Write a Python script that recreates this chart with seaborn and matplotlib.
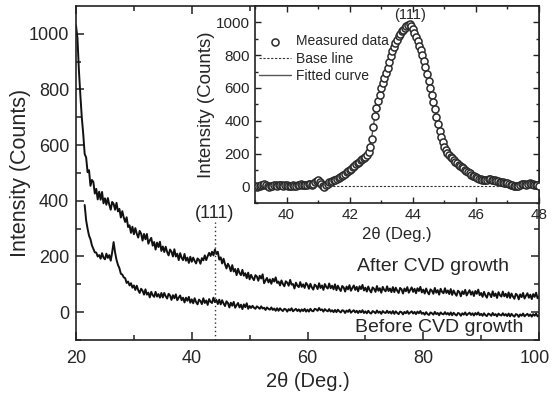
import numpy as np
import pandas as pd
import matplotlib
matplotlib.use("Agg")
import matplotlib.pyplot as plt
import matplotlib.transforms as mtransforms
import seaborn as sns

# ---------------- data ----------------
# main panel: 2theta from 20 to 100, step 0.25 (one row = 5 degrees)
main_x = np.round(np.arange(20.0, 100.001, 0.25), 2)
after_cvd = [
    1030, 985, 870, 780, 700, 640, 568, 556, 503, 510, 454, 475, 468, 426, 443, 405, 433, 404, 432, 391,  # 20
    409, 386, 410, 386, 368, 396, 389, 368, 393, 362, 371, 340, 363, 340, 324, 341, 306, 312, 285, 307,   # 25
    280, 302, 282, 268, 292, 282, 257, 281, 262, 281, 246, 258, 267, 239, 252, 225, 250, 234, 253, 220,   # 30
    236, 216, 235, 216, 204, 225, 217, 200, 226, 200, 210, 187, 212, 195, 187, 209, 185, 196, 177, 199,   # 35
    181, 196, 184, 175, 193, 188, 174, 194, 186, 204, 187, 201, 213, 202, 217, 204, 225, 209, 217, 189,   # 40
    197, 175, 192, 172, 157, 174, 164, 147, 169, 146, 155, 133, 156, 141, 133, 152, 131, 140, 122, 142,   # 45
    118, 134, 123, 115, 133, 128, 113, 131, 121, 136, 104, 114, 123, 107, 118, 102, 120, 110, 125, 105,   # 50
    110, 96, 114, 101, 93, 111, 106, 95, 116, 99, 101, 85, 106, 95, 90, 108, 91, 100, 87, 105,            # 55
    98, 84, 102, 89, 81, 99, 94, 83, 104, 87, 96, 80, 101, 90, 85, 103, 86, 95, 82, 100,                  # 60
    79, 95, 84, 76, 94, 89, 74, 92, 82, 97, 77, 87, 96, 80, 91, 75, 93, 83, 98, 78,                       # 65
    88, 74, 92, 79, 71, 89, 84, 73, 94, 77, 86, 70, 91, 80, 75, 93, 76, 85, 72, 90,                       # 70
    72, 88, 77, 69, 87, 82, 67, 85, 75, 90, 70, 80, 89, 73, 84, 68, 86, 76, 91, 71,                       # 75
    81, 67, 85, 72, 64, 82, 77, 66, 87, 70, 79, 63, 84, 73, 68, 86, 69, 78, 65, 83,                       # 80
    62, 78, 67, 59, 77, 72, 57, 75, 65, 80, 60, 70, 79, 63, 74, 58, 76, 66, 81, 61,                       # 85
    69, 55, 73, 60, 52, 70, 65, 54, 75, 58, 67, 51, 72, 61, 56, 74, 57, 66, 53, 71,                       # 90
    51, 67, 56, 48, 66, 61, 46, 64, 54, 69, 49, 59, 68, 52, 63, 47, 65, 55, 70, 50,                       # 95
    56,                                                                                                   # 100
]
before_cvd = [
    np.nan, np.nan, np.nan, np.nan, np.nan, np.nan, 385, 330, 300, 275,
    262, 240, 228, 215, 214, 200, 205, 192, 212, 196,                                     # 20
    190, 210, 195, 205, 185, 215, 252, 215, 188, 170, 158, 138, 135, 125, 122, 105, 110, 96, 104, 88,  # 25
    96, 80, 95, 79, 69, 84, 77, 63, 82, 63, 70, 53, 73, 61, 55, 73, 56, 65, 52, 69,     # 30
    53, 69, 57, 49, 66, 60, 44, 61, 50, 64, 43, 52, 60, 43, 52, 35, 52, 41, 55, 34,     # 35
    46, 32, 50, 36, 28, 45, 40, 29, 50, 33, 42, 26, 47, 37, 33, 52, 36, 44, 29, 45,     # 40
    28, 43, 31, 22, 39, 33, 17, 34, 23, 37, 16, 25, 33, 17, 27, 11, 28, 18, 32, 12,     # 45
    22, 15, 23, 16, 12, 21, 17, 12, 21, 13, 16, 8, 17, 12, 9, 17, 8, 13, 5, 14,         # 50
    5, 14, 8, 4, 12, 10, 2, 11, 6, 14, 3, 8, 12, 4, 10, 2, 10, 4, 12, 2,                # 55
    9, 2, 12, 5, 3, 12, 10, 5, 15, 7, 10, 2, 11, 6, 3, 11, 2, 7, 0, 8,                  # 60
    0, 9, 3, -1, 7, 5, -3, 6, 1, 9, -2, 3, 7, -1, 5, -3, 5, -1, 7, -3,                  # 65
    3, -4, 5, -2, -5, 4, 1, -4, 6, -2, 2, -6, 4, -1, -3, 5, -3, 2, -5, 4,               # 70
    -6, 3, -3, -7, 2, 0, -8, 1, -4, 4, -6, -1, 3, -5, 1, -7, 2, -4, 4, -6,              # 75
    -2, -9, 0, -7, -10, -1, -4, -9, 1, -7, -3, -11, -1, -6, -8, 0, -8, -3, -10, -1,     # 80
    -11, -2, -8, -12, -3, -5, -13, -4, -9, -1, -11, -6, -2, -10, -4, -12, -3, -9, -1, -11,  # 85
    -6, -13, -4, -11, -14, -5, -8, -13, -3, -11, -7, -15, -5, -10, -12, -4, -12, -7, -14, -5,  # 90
    -15, -6, -12, -16, -7, -9, -17, -8, -13, -5, -15, -10, -6, -14, -8, -16, -7, -13, -5, -15,  # 95
    -12,                                                                                   # 100
]

# inset: measured data, 2theta 39.00-48.00, step 0.05 (one row = 1 degree)
inset_x = np.round(np.arange(39.0, 48.001, 0.05), 2)
measured = [
    2, -3, 0, 4, 6, 10, 12, 6, 2, -2, 0, 4, 9, 6, 2, 5, 11, 8, 3, 5,                  # 39
    7, 2, -1, 3, 6, 4, 2, 6, 9, 12, 10, 7, 5, 10, 15, 12, 9, 16, 24, 32,              # 40
    36, 26, 12, 2, -4, 6, 16, 24, 28, 32, 36, 40, 44, 50, 56, 64, 72, 78, 86, 92,     # 41
    98, 108, 118, 126, 134, 142, 150, 158, 166, 174, 180, 190, 210, 240, 290, 360,
    430, 480, 520, 560,                                                               # 42
    600, 630, 660, 690, 720, 760, 795, 825, 850, 875, 895, 915, 930, 945, 955, 965,
    975, 985, 992, 980,                                                               # 43
    962, 935, 910, 885, 858, 830, 800, 765, 730, 685, 640, 600, 560, 515, 470, 425,
    380, 340, 300, 268,                                                               # 44
    240, 220, 205, 192, 180, 170, 160, 150, 140, 132, 125, 118, 110, 102, 96, 88,
    80, 72, 65, 60,                                                                   # 45
    55, 50, 45, 42, 40, 38, 36, 40, 44, 42, 38, 36, 38, 34, 30, 28, 25, 24, 22, 20,   # 46
    18, 14, 10, 6, 4, 2, 1, 4, 8, 12, 14, 12, 10, 14, 18, 15, 12, 10, 8, 6,           # 47
    2,                                                                                # 48
]
# inset: fitted curve, step 0.1
fit_x = np.round(np.arange(39.0, 48.001, 0.1), 2)
fitted = [
    2, 2, 3, 3, 3, 4, 4, 4, 5, 5,                      # 39
    5, 6, 6, 7, 8, 9, 10, 12, 14, 16,                  # 40
    19, 22, 26, 30, 35, 40, 46, 56, 70, 86,            # 41
    100, 118, 135, 150, 166, 182, 215, 300, 430, 520,  # 42
    600, 660, 720, 790, 850, 895, 930, 955, 975, 990,  # 43
    960, 910, 858, 800, 730, 640, 560, 470, 380, 300,  # 44
    240, 205, 180, 160, 140, 125, 110, 96, 80, 65,     # 45
    55, 46, 40, 37, 35, 33, 31, 28, 25, 22,            # 46
    18, 14, 10, 8, 7, 7, 6, 6, 5, 5,                   # 47
    4,                                                 # 48
]
baseline_x = [39.0, 48.0]
baseline_y = [0, 0]

main_xticks = [20, 40, 60, 80, 100]
main_yticks = [0, 200, 400, 600, 800, 1000]
inset_xticks = [40, 42, 44, 46, 48]
inset_yticks = [0, 200, 400, 600, 800, 1000]

df_main = pd.DataFrame({"x": main_x, "after": after_cvd, "before": before_cvd})
df_meas = pd.DataFrame({"x": inset_x, "y": measured})
df_fit = pd.DataFrame({"x": fit_x, "y": fitted})
df_base = pd.DataFrame({"x": baseline_x, "y": baseline_y})

# ---------------- style ----------------
sns.set_theme(style="ticks")
plt.rcParams["font.family"] = ["Liberation Sans", "DejaVu Sans"]
plt.rcParams["axes.linewidth"] = 1.2
plt.rcParams["xtick.direction"] = "in"
plt.rcParams["ytick.direction"] = "in"

W, H = 552, 403
fig = plt.figure(figsize=(W / 100, H / 100), dpi=100)
ax = fig.add_axes([76 / W, 1 - 340 / H, (539 - 76) / W, (340 - 6) / H])

sns.lineplot(data=df_main, x="x", y="after", ax=ax, color="#111111", lw=1.4,
             estimator=None, sort=False)
sns.lineplot(data=df_main.dropna(), x="x", y="before", ax=ax, color="#111111", lw=1.4,
             estimator=None, sort=False)
ax.plot([44, 44], [-100, 325], ls=(0, (1, 2)), color="#333333", lw=1.0)
ax.text(44, 355, "(111)", ha="center", va="center", fontsize=13)
ax.text(68.5, 163, "After CVD growth", ha="left", va="center", fontsize=14)
ax.text(68.2, -54, "Before CVD growth", ha="left", va="center", fontsize=14)

ax.set_xlim(20, 100)
ax.set_ylim(-100, 1100)
ax.set_xticks(main_xticks)
ax.set_yticks(main_yticks)
ax.set_xticks(np.arange(30, 100, 20), minor=True)
ax.set_yticks(np.arange(-100, 1100, 200), minor=True)
ax.tick_params(which="both", top=True, right=True, labelsize=13, width=1.1, color="#222222")
ax.tick_params(which="major", length=6)
ax.tick_params(which="minor", length=3.5)
ax.tick_params(axis="x", which="major", pad=7)
ax.tick_params(axis="y", which="major", pad=5)
ax.set_xlabel("2\u03b8 (Deg.)", fontsize=14.5, labelpad=4)
ax.set_ylabel("Intensity (Counts)", fontsize=15.5, labelpad=-2)
for s in ax.spines.values():
    s.set_color("#222222")
# nudge the last x tick label so it stays inside the figure
last_lbl = ax.get_xticklabels()[-1]
last_lbl.set_transform(last_lbl.get_transform() +
                       mtransforms.ScaledTranslation(-3 / 72, 0, fig.dpi_scale_trans))

# ---------------- inset ----------------
ins = fig.add_axes([255 / W, 1 - 202.7 / H, (539 - 255) / W, (202.7 - 6) / H])
ins.set_facecolor("white")
sns.lineplot(data=df_fit, x="x", y="y", ax=ins, color="#555555", lw=1.0,
             estimator=None, sort=False, label="Fitted curve", zorder=2)
sns.lineplot(data=df_base, x="x", y="y", ax=ins, color="#333333", lw=0.8,
             estimator=None, sort=False, linestyle=(0, (2, 1.5)), label="Base line", zorder=2)
sns.scatterplot(data=df_meas, x="x", y="y", ax=ins, marker="o", s=26,
                facecolor="white", edgecolor="#2a2a2a", linewidth=1.1,
                label="Measured data", zorder=3)
ins.text(43.9, 1045, "(111)", ha="center", va="center", fontsize=10.5)

handles, labels = ins.get_legend_handles_labels()
order = [labels.index(l) for l in ["Measured data", "Base line", "Fitted curve"]]
ins.legend([handles[i] for i in order], [labels[i] for i in order],
           loc="upper left", bbox_to_anchor=(-0.005, 0.885), frameon=False, fontsize=10,
           handlelength=2.3, handletextpad=0.35, labelspacing=0.25, borderaxespad=0.2,
           borderpad=0.2)

ins.set_xlim(39, 48)
ins.set_ylim(-100, 1100)
ins.set_xticks(inset_xticks)
ins.set_yticks(inset_yticks)
ins.set_xticks(np.arange(39, 48, 2), minor=True)
ins.set_yticks(np.arange(-100, 1100, 200), minor=True)
ins.tick_params(which="both", top=True, right=True, labelsize=11, width=1.0, color="#222222",
                pad=3.5)
ins.tick_params(which="major", length=4)
ins.tick_params(which="minor", length=2.5)
ins.set_xlabel("2\u03b8 (Deg.)", fontsize=12, labelpad=4)
ins.set_ylabel("Intensity (Counts)", fontsize=13.5, labelpad=0.5)
for s in ins.spines.values():
    s.set_color("#222222")

fig.savefig("out.png", dpi=100)
